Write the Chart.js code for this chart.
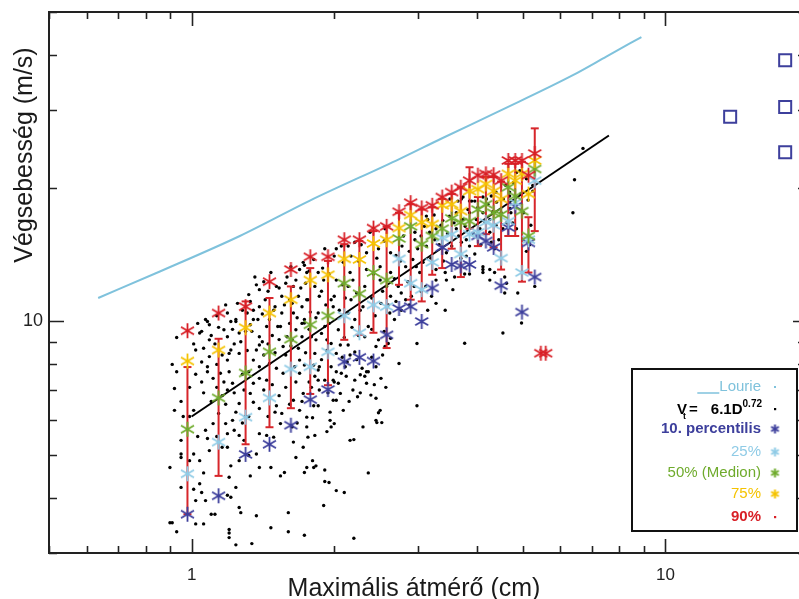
<!DOCTYPE html>
<html><head><meta charset="utf-8">
<script src="https://cdn.jsdelivr.net/npm/chart.js@4.4.1/dist/chart.umd.min.js"></script>
<style>
html,body{margin:0;padding:0;background:#fff;overflow:hidden;width:799px;height:599px}
#wrap{position:relative;width:799px;height:599px;overflow:hidden}
canvas{display:block}
</style></head>
<body><div id="wrap"><canvas id="c" width="812" height="599"></canvas></div>
<script>
// ---------------- data ----------------
const binDiameters = [0.98,1.14,1.30,1.46,1.62,1.78,1.94,2.10,2.26,2.42,2.58,2.74,2.90,3.06,3.22,3.38,3.54,3.70,3.86,4.02,4.18,4.34,4.50,4.66,4.82,4.98,5.14,5.30];
const p90 = [9.53,10.45,10.8,12.3,13.1,14.0,14.0,15.3,15.3,16.25,16.4,17.7,18.55,18.05,18.3,19.1,19.6,20.1,20.8,21.4,21.55,21.45,20.8,23.1,23.1,23.1,21.4,23.95];
const p75 = [8.14,8.62,9.68,10.45,11.2,12.4,12.75,13.85,13.8,15.0,15.3,16.25,17.4,16.75,16.6,18.3,18.4,17.75,19.7,19.9,20.45,19.7,18.9,21.55,20.8,21.55,19.4,23.1];
const p50 = [5.71,6.72,7.65,8.54,9.12,9.83,10.3,12.2,11.55,12.9,12.4,15.4,16.4,14.95,15.6,16.2,17.1,16.75,16.85,17.9,18.4,17.6,17.45,20.1,19.2,17.75,15.6,22.1];
const p25 = [4.53,5.34,6.08,6.72,7.81,7.90,8.54,10.3,9.43,10.9,10.8,13.85,12.2,11.8,13.6,15.45,15.75,14.2,15.75,15.9,16.75,16.5,13.9,16.85,18.55,12.9,15.3,20.8];
const p10 = [3.67,4.04,5.01,5.28,5.83,6.66,7.02,8.11,8.30,8.14,9.33,10.7,10.8,10.0,11.9,14.7,13.45,13.35,13.45,15.6,15.2,14.7,12.05,16.3,18.2,10.5,15.05,12.6];
const errTop = [7.89,9.14,11.1,11.3,12.0,13.2,13.7,14.95,15.2,16.0,16.4,17.6,18.4,17.9,18.1,18.9,19.4,20.1,22.3,19.1,21.2,21.2,20.7,22.7,22.7,22.95,17.2,27.3];
const errBottom = [3.67,4.48,5.28,5.77,6.37,6.86,7.18,9.09,9.33,9.43,8.71,12.1,11.2,11.1,12.75,13.2,14.6,12.6,16.2,14.8,15.75,14.7,13.1,15.6,15.6,12.3,12.9,16.0];
const extra90D = [5.46, 5.59];
const extra90V = [8.48, 8.48];
const lourieD = [0.635,0.857,1.264,1.777,2.751,3.37,4.47,6.38,7.52,8.90];
const lourieV = [11.3,12.97,15.6,18.75,23.3,25.9,29.9,36.0,39.7,43.9];
const fitD = [1.0, 7.6];
const fitV = [6.1, 26.3];
const squareD = [13.7, 17.9, 17.9, 17.9];
const squareV = [29.0, 38.9, 30.5, 24.1];
const xTickLabels = ['1', '10'];
const yTickLabels = ['10'];
const measurements = [
[0.93,9.2],[0.91,8.0],[0.93,7.7],[0.92,7.06],[0.92,6.3],[0.95,6.6],[0.99,7.1],[0.96,6.1],[0.99,6.1],[1.01,6.3],
[0.90,4.68],[0.95,4.93],[0.99,4.85],[0.95,4.22],[1.01,4.18],[1.04,4.30],[1.05,4.11],[1.02,3.94],[1.07,3.94],[0.91,3.51],
[0.93,3.35],[1.02,3.49],[1.06,3.49],[1.20,3.33],[1.20,3.25],[1.24,3.13],[1.34,3.15],[1.26,3.80],[1.27,3.70],[1.37,3.64],
[1.33,4.48],[1.39,4.68],[1.47,4.68],[1.54,4.48],[1.57,4.56],[1.60,3.70],[1.60,3.35],[1.73,3.29],[1.47,3.42],[1.10,3.67],
[1.12,3.67],[1.19,4.05],[1.21,4.01],[1.24,4.22],[1.20,4.45],[1.21,4.72],[1.26,4.85],[1.32,4.98],[1.37,5.02],[1.09,5.11],
[1.08,5.44],[1.07,5.68],[1.11,5.88],[1.18,5.88],[1.19,5.58],[1.23,5.68],[1.26,5.53],[1.19,5.20],[1.29,5.39],[1.39,5.58],
[1.44,5.53],[1.49,5.48],[1.54,5.88],[1.50,6.24],[1.51,6.45],[1.39,6.36],[1.35,6.57],[1.33,6.88],[1.29,7.00],[1.26,6.53],
[1.24,6.24],[1.22,5.98],[1.19,7.00],[1.15,7.64],[1.11,7.44],[1.08,7.90],[1.09,8.33],[1.19,8.18],[1.21,8.62],[1.26,8.47],
[1.35,8.18],[1.39,8.85],[1.46,8.04],[1.51,7.84],[1.56,7.64],[1.66,7.30],[1.69,7.64],[1.72,6.88],[1.64,6.64],[1.69,6.30],
[1.75,6.08],[1.64,5.34],[1.72,5.20],[1.66,4.93],[1.75,4.68],[1.63,5.78],[1.39,7.44],[1.35,7.25],[1.32,7.70],[1.20,7.70],
[1.17,7.30],[1.13,7.10],
[2.99,8.92],[2.74,8.04],[2.99,6.45],[2.21,7.37],[2.24,6.76],[2.30,5.78],[2.20,5.41],[2.39,6.82],[2.45,6.71],[2.50,6.30],
[2.48,6.22],[2.46,5.91],[2.52,5.91],[2.51,7.44],[2.36,7.70],[2.32,7.52],[2.27,7.58],[2.36,4.55],[2.10,4.11],[2.20,3.24],
[1.90,3.84],[1.91,4.35],[1.95,4.33],[1.91,4.62],[1.80,4.85],[1.81,4.68],[1.83,4.72],[1.73,4.56],
[2.00,5.88],[1.97,5.78],[1.96,5.98],[1.96,6.24],[1.93,5.64],[1.82,5.53],[1.76,5.48],[1.75,5.78],[1.80,6.06],
[1.85,6.45],[1.81,6.45],[2.02,6.64],[2.06,6.88],[1.99,6.64],[2.04,7.25],[2.07,7.64],[2.02,7.70],[2.11,7.90],[2.16,8.40],
[2.21,8.53],[2.29,7.84],[2.34,7.70],[2.45,8.78],[2.56,8.78],[2.60,8.92],[2.14,8.85],[2.06,8.85],[1.97,8.92],[1.85,7.77],
[1.82,7.52],[1.85,7.37],[1.79,7.10],[1.86,7.00],[1.91,7.37],[2.00,7.30],[1.73,7.97],[1.82,8.47],[1.81,7.97],
[1.05,9.5],[1.08,10.0],[1.09,9.83],[1.19,10.45],[1.21,10.0],[1.25,10.99],[1.26,9.42],[1.32,11.5],[1.37,12.1],[1.39,11.8],
[1.35,10.6],[1.39,10.8],[1.38,10.1],[1.51,12.0],[1.55,11.4],[1.50,10.8],[1.52,9.74],[1.59,12.6],[1.64,12.0],[1.69,13.1],
[1.72,13.6],[1.75,12.9],[1.68,11.4],[1.71,10.8],[1.75,11.2],[1.64,10.45],[1.55,10.45],[1.46,10.1],[1.43,11.2],[1.44,9.74],
[1.39,9.24],[1.33,9.83],[1.24,10.0],[1.17,9.58],[1.13,10.3],[1.09,9.09],[1.31,10.45],[1.63,10.99],[1.59,9.24],[1.73,9.92],
[1.71,9.24],[1.63,9.09],
[1.73,13.4],[1.81,13.8],[1.85,12.9],[1.82,12.0],[1.86,11.4],[1.76,11.2],[1.85,10.45],[1.99,10.8],[2.00,11.4],[2.02,12.4],
[2.00,14.05],[2.02,14.6],[2.14,14.8],[2.17,14.05],[2.16,12.9],[2.14,12.0],[2.17,11.2],[2.14,10.45],[2.21,10.1],[2.30,10.8],
[2.32,12.0],[2.34,13.1],[2.34,14.3],[2.48,14.6],[2.50,13.3],[2.50,12.4],[2.63,14.3],[2.63,12.9],[2.63,11.4],[2.62,10.45],
[2.68,10.1],[2.83,11.2],[2.83,13.3],[2.96,15.3],[2.98,13.3],[3.10,16.4],[3.15,17.0],[3.13,14.8],[3.26,15.3],[3.28,12.4],
[3.21,11.4],[3.28,10.99],[3.43,10.6],[3.43,12.9],[3.45,14.3],[3.54,14.8],[1.91,9.74],[2.04,9.58],[1.93,9.09],[1.79,9.24],
[1.73,10.1],[2.36,9.74],[2.32,9.24],[2.48,9.09],[2.63,9.16],[2.77,10.6],[2.91,11.4],[2.56,16.2],[2.38,15.9],[2.21,15.1],
[2.07,14.8],[1.91,14.6],[1.90,12.4],[2.51,10.99],[2.73,12.0],
[3.51,18.9],[3.65,18.7],[3.74,19.1],[3.86,18.7],[3.96,18.7],[4.19,18.9],[4.29,19.2],[4.39,19.6],[4.85,21.7],[4.93,21.9],
[4.69,19.2],[4.72,17.6],[4.76,16.7],[4.85,16.2],[4.62,16.7],[4.54,16.2],[4.39,16.5],[4.26,17.0],[4.12,17.6],[3.99,17.0],
[3.86,17.6],[3.74,17.0],[3.62,17.6],[3.71,15.1],[3.62,16.2],[3.86,14.8],[3.80,14.05],[3.59,12.6],[3.77,12.8],[3.86,12.8],
[4.12,13.3],[4.12,12.9],[4.26,13.1],[4.36,14.6],[4.29,15.1],[4.58,12.6],[4.58,11.6],[4.88,11.6],[5.09,14.4],[5.17,14.9],
[4.97,9.92],[4.54,9.42],[5.30,12.0],[6.38,17.6],[6.43,20.9],[6.70,24.6],[5.25,20.3],[5.09,21.0],[3.77,8.93],[4.36,12.9],
[2.78,14.8],[2.96,15.9],[3.13,17.3],[3.28,16.2],[3.39,16.9],[3.71,18.9],[3.90,18.7],[4.12,19.1],[3.80,15.3],[4.06,16.2],
[4.26,15.9],[4.50,17.6],[4.69,19.6],[5.25,19.7],[2.77,11.6],[3.03,12.9],[3.28,13.1],[3.45,12.4],[3.56,11.8],
[4.12,13.1],[4.26,12.4],[4.62,12.2],
[1.04,9.42],[1.07,10.1],[1.02,8.62],[1.05,7.30],[1.08,7.70],[1.19,9.24],[1.20,8.47],[1.22,7.25],[1.24,10.1],[1.35,10.1],
[1.37,8.62],[1.39,7.90],[1.44,7.37],[1.54,9.74],[1.56,8.78],[1.66,9.58],[1.69,8.18],[1.83,9.09],[1.86,7.90],[1.99,7.37],
[2.02,8.47],[2.12,7.52],[2.19,7.00],[2.34,7.25],[2.45,7.90],[0.95,5.39],[0.95,5.02],[1.01,5.02],[1.04,4.85],[1.06,4.55],
[0.90,3.51],[1.20,3.39],[2.02,4.15],[2.16,5.39],[2.45,5.98],
[1.01,8.9],[1.03,9.9],[1.06,8.7],[1.10,9.3],[1.12,8.9],[1.14,9.7],[1.16,8.4],[1.18,10.9],[1.22,9.6],[1.23,8.9],
[1.27,9.0],[1.28,10.6],[1.30,9.5],[1.31,8.6],[1.02,7.6],[1.05,8.1],[1.13,8.0],[1.16,6.8],[1.18,6.5],[1.23,6.9],
[1.28,7.6],[1.30,6.1],[1.14,6.2],[1.10,6.6],[1.06,6.9],[1.03,5.5],[1.13,5.5],[1.16,5.2],[1.28,5.9],[1.32,6.1],
[1.33,11.1],[1.36,12.6],[1.41,10.4],[1.42,12.3],[1.45,11.7],[1.47,12.9],[1.49,10.6],[1.53,11.9],[1.57,10.9],[1.58,12.2],
[1.61,11.2],[1.62,13.3],[1.66,12.4],[1.67,10.2],[1.70,11.9],[1.74,12.2],[1.77,13.0],[1.78,10.5],
[1.34,9.5],[1.41,9.0],[1.42,8.4],[1.45,8.9],[1.48,9.3],[1.50,8.5],[1.53,9.1],[1.58,8.4],[1.61,9.9],[1.62,8.8],
[1.65,7.9],[1.68,8.7],[1.71,9.9],[1.74,8.5],[1.77,9.6],[1.42,7.0],[1.48,7.2],[1.53,6.8],[1.58,7.1],[1.61,6.5],
[1.45,6.1],[1.55,6.2],[1.67,5.9],[1.71,6.6],[1.77,7.3],
[1.83,10.2],[1.88,11.7],[1.89,13.2],[1.92,10.9],[1.95,12.8],[1.97,11.2],[2.05,10.6],[2.08,12.1],[2.09,13.6],[2.11,11.3],
[2.19,12.4],[2.23,11.6],[2.25,13.7],[2.27,10.6],[2.28,14.9],[2.40,11.3],[2.42,12.8],[2.44,10.3],[2.46,13.9],[2.53,11.7],
[2.55,15.2],[2.58,12.0],[1.88,9.4],[1.95,9.9],[2.10,9.2],[2.18,9.7],[2.25,9.3],[2.40,9.6],[2.55,9.5],[2.60,10.9],
[1.88,8.2],[1.93,8.6],[1.97,7.9],[2.08,8.3],[2.13,8.1],[2.23,8.2],[2.27,6.9],[2.40,8.3],[2.43,7.2],[2.53,8.4],
[2.57,7.1],[1.94,6.9],[2.09,6.3],[2.15,6.6],
[2.68,12.5],[2.70,14.1],[2.76,13.7],[2.80,15.6],[2.86,12.3],[2.88,14.4],[2.93,13.8],[3.00,14.6],[3.05,15.6],[3.08,13.6],
[3.12,12.0],[3.18,15.9],[3.20,13.9],[3.25,17.4],[3.33,14.9],[3.36,16.5],[3.40,13.7],[3.47,15.8],[3.50,17.3],[2.70,11.1],
[2.88,10.9],[2.95,12.0],[3.05,11.7],[3.15,10.6],
[3.58,16.7],[3.66,15.6],[3.70,13.9],[3.78,16.4],[3.83,17.9],[3.93,15.8],[3.96,14.2],[4.02,18.1],[4.08,14.9],[4.16,16.8],
[4.22,18.4],[4.32,17.7],[4.40,18.6],[4.45,15.3],[4.55,18.9],[4.60,20.3],[4.70,18.0],[4.78,20.6],[4.95,19.4],[5.02,17.6],
[5.13,18.8],[5.20,16.5]
];

// ---------------- styles ----------------
const C = {
  p90:'#d81f26', p75:'#f5c300', p50:'#6fab2c', p25:'#8fcbe6', p10:'#3d3f9c',
  lourie:'#7fc2dc', err:'#d7262b', square:'#3d3f9c', axis:'#222'
};
function makeStar(color, r, lw) {
  const s = Math.ceil(2 * r + lw + 2);
  const c = document.createElement('canvas');
  c.width = s; c.height = s;
  const g = c.getContext('2d');
  g.strokeStyle = color; g.lineWidth = lw;
  const cx = s / 2, cy = s / 2;
  g.beginPath();
  [90, 30, 150].forEach(a => {
    const t = a * Math.PI / 180, dx = r * Math.cos(t), dy = r * Math.sin(t);
    g.moveTo(cx - dx, cy - dy); g.lineTo(cx + dx, cy + dy);
  });
  g.stroke();
  return c;
}
const stars = {};
['p90','p75','p50','p25','p10'].forEach(k => stars[k] = makeStar(C[k], 7.5, 1.8));
const smallStars = {};
['p75','p50','p25','p10'].forEach(k => smallStars[k] = makeStar(C[k], 4.5, 2));

const pts = (xs, ys) => xs.map((d, i) => ({x: d, y: ys[i]}));
const errData = [];
binDiameters.forEach((d, i) => { errData.push({x: d, y: errTop[i]}, {x: d, y: errBottom[i]}, {x: d, y: null}); });

const xTickValues = [0.5,0.6,0.7,0.8,0.9,1,2,3,4,5,6,7,8,9,10,20];
const yTickValues = [3,4,5,6,7,8,9,10,20,30,40,50];

const decor = {
  id: 'decor',
  afterDraw(chart) {
    const {ctx, chartArea: a, scales: {x, y}} = chart;
    ctx.save();
    ctx.strokeStyle = C.axis; ctx.lineWidth = 2;
    ctx.strokeRect(a.left, a.top, a.right - a.left, a.bottom - a.top);
    ctx.lineWidth = 1.6;
    ctx.beginPath();
    xTickValues.forEach(v => {
      const px = Math.round(x.getPixelForValue(v)) + 0.5;
      const len = xTickLabels.includes(String(v)) ? 14 : 7;
      ctx.moveTo(px, a.bottom); ctx.lineTo(px, a.bottom - len);
      ctx.moveTo(px, a.top); ctx.lineTo(px, a.top + len);
    });
    yTickValues.forEach(v => {
      const py = Math.round(y.getPixelForValue(v)) + 0.5;
      const major = yTickLabels.includes(String(v));
      ctx.moveTo(a.left, py); ctx.lineTo(a.left + (major ? 15 : 8), py);
      ctx.moveTo(a.right, py); ctx.lineTo(a.right - (major ? 15 : 10), py);
    });
    ctx.stroke();

    // axis titles
    ctx.fillStyle = '#1a1a1a';
    ctx.font = '25px "Liberation Sans", Arial, sans-serif';
    ctx.textAlign = 'center'; ctx.textBaseline = 'alphabetic';
    ctx.fillText('Maximális átmérő (cm)', 414, 596);
    ctx.save();
    ctx.translate(32, 155); ctx.rotate(-Math.PI / 2);
    ctx.fillText('Végsebesség (m/s)', 0, 0);
    ctx.restore();

    // legend box
    const L = {l: 632, t: 369, r: 797, b: 531, tx: 761, mx: 775};
    ctx.fillStyle = '#fff';
    ctx.fillRect(L.l, L.t, L.r - L.l, L.b - L.t);
    ctx.strokeStyle = '#111'; ctx.lineWidth = 2;
    ctx.strokeRect(L.l, L.t, L.r - L.l, L.b - L.t);
    ctx.textAlign = 'right'; ctx.textBaseline = 'middle';
    const reg = '15px "Liberation Sans", Arial, sans-serif';
    const bold = 'bold 15px "Liberation Sans", Arial, sans-serif';
    // Lourie
    ctx.font = reg; ctx.fillStyle = C.lourie;
    ctx.fillText('Lourie', L.tx, 387);
    const lw = ctx.measureText('Lourie').width;
    ctx.strokeStyle = C.lourie; ctx.lineWidth = 1.5;
    ctx.beginPath(); ctx.moveTo(L.tx - lw - 22, 393); ctx.lineTo(L.tx - lw, 393); ctx.stroke();
    ctx.fillRect(L.mx - 1, 386, 2, 2);
    // V_t = 6.1 D^0.72
    ctx.fillStyle = '#000';
    ctx.textAlign = 'left'; ctx.textBaseline = 'alphabetic';
    const yb = 414;
    ctx.font = 'bold 10px "Liberation Sans", Arial, sans-serif';
    const wSup = ctx.measureText('0.72').width;
    const xSup = L.tx + 1 - wSup;
    ctx.fillText('0.72', xSup, yb - 7);
    ctx.font = bold;
    const wMain = ctx.measureText('6.1D').width;
    const xMain = xSup - wMain;
    ctx.fillText('6.1D', xMain, yb);
    const wEq = ctx.measureText('=').width;
    const xEq = xMain - 13 - wEq;
    ctx.fillText('=', xEq, yb);
    const wV = ctx.measureText('V').width;
    ctx.fillText('V', xEq - wV - 2, yb);
    ctx.font = 'bold 9px "Liberation Sans", Arial, sans-serif';
    ctx.fillText('t', xEq - 6, yb + 5);
    ctx.fillRect(L.mx - 1, 408, 2.2, 2.2);
    // percentiles
    ctx.textAlign = 'right'; ctx.textBaseline = 'middle';
    const rows = [
      ['10. percentilis', C.p10, bold, 429, 'p10'],
      ['25%', C.p25, reg, 452, 'p25'],
      ['50% (Medion)', C.p50, reg, 473, 'p50'],
      ['75%', C.p75, reg, 494, 'p75'],
      ['90%', C.p90, bold, 517, null]
    ];
    rows.forEach(([t, col, f, yy, k]) => {
      ctx.font = f; ctx.fillStyle = col;
      ctx.fillText(t, L.tx, yy);
      if (k) {
        const im = smallStars[k];
        ctx.drawImage(im, L.mx - im.width / 2, yy - im.height / 2);
      } else {
        ctx.fillRect(L.mx - 1, yy - 1, 2.2, 2.2);
      }
    });
    ctx.restore();
  }
};

const noPad = (s) => { s.paddingTop = 0; s.paddingBottom = 0; s.paddingLeft = 0; s.paddingRight = 0; };

new Chart(document.getElementById('c'), {
  type: 'scatter',
  data: {
    datasets: [
      {label: '90%', data: pts(binDiameters, p90), pointStyle: stars.p90, pointRadius: 7, order: 0},
      {label: '90% extra', data: pts(extra90D, extra90V), pointStyle: stars.p90, pointRadius: 7, order: 0},
      {label: '75%', data: pts(binDiameters, p75), pointStyle: stars.p75, pointRadius: 7, order: 1},
      {label: '50% (Medion)', data: pts(binDiameters, p50), pointStyle: stars.p50, pointRadius: 7, order: 2},
      {label: '25%', data: pts(binDiameters, p25), pointStyle: stars.p25, pointRadius: 7, order: 3},
      {label: '10. percentilis', data: pts(binDiameters, p10), pointStyle: stars.p10, pointRadius: 7, order: 4},
      {label: 'szórás', data: errData, showLine: true, spanGaps: false, borderColor: C.err, borderWidth: 2,
       pointStyle: 'line', pointRadius: 4, pointBorderColor: C.err, pointBorderWidth: 2, order: 5},
      {label: 'Vt = 6.1D^0.72', data: pts(fitD, fitV), showLine: true, borderColor: '#000', borderWidth: 2, pointRadius: 0, order: 6},
      {label: 'Lourie', data: pts(lourieD, lourieV), showLine: true, borderColor: C.lourie, borderWidth: 2,
       pointRadius: 0, cubicInterpolationMode: 'monotone', order: 7},
      {label: 'mérések', data: measurements.map(([d, v]) => ({x: d, y: v})), pointRadius: 1.7,
       backgroundColor: '#000', borderColor: '#000', borderWidth: 0, order: 8},
      {label: 'squares', data: pts(squareD, squareV), pointStyle: 'rect', pointRadius: 8.5,
       backgroundColor: 'rgba(0,0,0,0)', borderColor: C.square, borderWidth: 2, order: 9}
    ]
  },
  options: {
    responsive: false, animation: false, events: [],
    layout: {autoPadding: false, padding: {left: 0, top: 12, right: 4, bottom: 0}},
    plugins: {legend: {display: false}, tooltip: {enabled: false}},
    scales: {
      x: {
        type: 'logarithmic', min: 0.5, max: 20, position: 'bottom', bounds: 'data',
        grid: {display: false, drawTicks: false}, border: {display: false},
        ticks: {font: {family: '"Liberation Sans", Arial, sans-serif', size: 17}, color: '#222', padding: 12,
          autoSkip: false, maxRotation: 0, callback: (v) => xTickLabels.find(t => Number(t) === v) ?? ''},
        afterBuildTicks: (s) => { s.ticks = xTickLabels.map(t => ({value: Number(t)})); },
        afterFit: (s) => { s.height = 46; noPad(s); }
      },
      y: {
        type: 'logarithmic', min: 3, max: 50, position: 'left', bounds: 'data',
        grid: {display: false, drawTicks: false}, border: {display: false},
        ticks: {font: {family: '"Liberation Sans", Arial, sans-serif', size: 18}, color: '#222', padding: 6,
          autoSkip: false, callback: (v) => yTickLabels.find(t => Number(t) === v) ?? ''},
        afterBuildTicks: (s) => { s.ticks = yTickLabels.map(t => ({value: Number(t)})); },
        afterFit: (s) => { s.width = 49; noPad(s); }
      }
    }
  },
  plugins: [decor]
});
</script></body></html>
